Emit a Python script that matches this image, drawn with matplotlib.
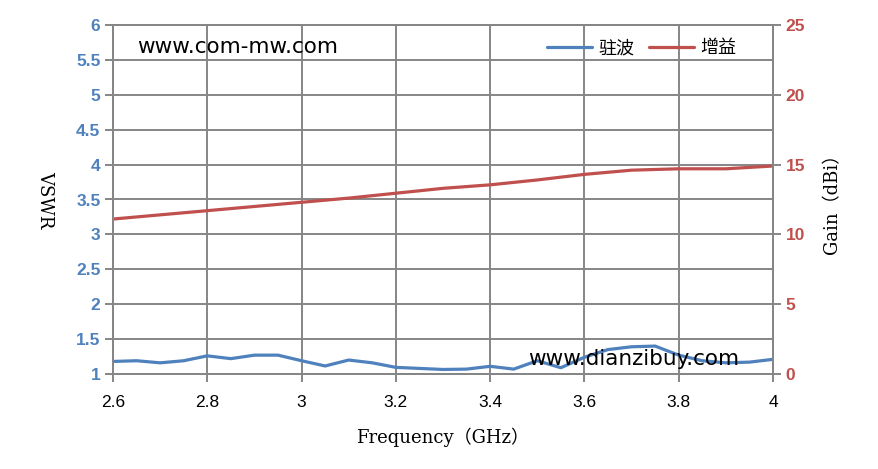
import matplotlib
matplotlib.use("Agg")
import matplotlib.pyplot as plt

# frequency points (GHz)
freq = [2.60, 2.65, 2.70, 2.75, 2.80, 2.85, 2.90, 2.95, 3.00, 3.05,
        3.10, 3.15, 3.20, 3.25, 3.30, 3.35, 3.40, 3.45, 3.50, 3.55,
        3.60, 3.65, 3.70, 3.75, 3.80, 3.85, 3.90, 3.95, 4.00]

# 驻波 (VSWR)
vswr = [1.18, 1.19, 1.16, 1.19, 1.26, 1.22, 1.27, 1.27, 1.19, 1.115,
        1.20, 1.16, 1.095, 1.08, 1.065, 1.07, 1.11, 1.07, 1.19, 1.09,
        1.24, 1.35, 1.39, 1.40, 1.27, 1.19, 1.16, 1.17, 1.21]

# 增益 (gain, dBi)
gain_freq = [2.6, 2.7, 2.8, 2.9, 3.0, 3.1, 3.2, 3.3, 3.4, 3.5,
             3.6, 3.7, 3.8, 3.9, 4.0]
gain = [11.1, 11.4, 11.7, 12.0, 12.3, 12.6, 12.95, 13.3, 13.55, 13.9,
        14.3, 14.6, 14.7, 14.7, 14.9]

xticks = [2.6, 2.8, 3.0, 3.2, 3.4, 3.6, 3.8, 4.0]
xticklabels = ["2.6", "2.8", "3", "3.2", "3.4", "3.6", "3.8", "4"]
vswr_ticks = [1, 1.5, 2, 2.5, 3, 3.5, 4, 4.5, 5, 5.5, 6]
vswr_labels = ["1", "1.5", "2", "2.5", "3", "3.5", "4", "4.5", "5", "5.5", "6"]
gain_ticks = [0, 5, 10, 15, 20, 25]

blue = "#4F81BD"
red = "#C0504D"
grey = "#868686"

fig = plt.figure(figsize=(8.79, 4.69), dpi=100)
ax = fig.add_axes([113/879, 1-374/469, 660/879, 349/469])
ax2 = ax.twinx()

lb, = ax.plot(freq, vswr, color=blue, lw=2.3, solid_capstyle="round")
lr, = ax2.plot(gain_freq, gain, color=red, lw=2.3, solid_capstyle="round")

ax.set_xlim(2.6, 4.0)
ax.set_ylim(1, 6)
ax2.set_ylim(0, 25)

ax.set_xticks(xticks)
ax.set_xticklabels(xticklabels, family="Liberation Sans", fontsize=12.5)
ax.set_yticks(vswr_ticks)
ax.set_yticklabels(vswr_labels, family="Liberation Sans", fontweight="bold", fontsize=12.5, color=blue)
ax2.set_yticks(gain_ticks)
ax2.set_yticklabels([str(t) for t in gain_ticks], family="Liberation Sans", fontweight="bold",
                    fontsize=12.5, color=red)

ax.grid(True, color=grey, lw=1.4)
ax.set_axisbelow(True)
for a in (ax, ax2):
    for s in a.spines.values():
        s.set_color(grey)
        s.set_linewidth(1.4)
ax.tick_params(axis="y", direction="out", length=6, width=1.4, color=grey, pad=3)
ax.tick_params(axis="x", direction="out", length=6, width=1.4, color=grey, pad=9)
ax2.tick_params(axis="y", direction="out", length=6, width=1.4, color=grey, pad=3)

ax.set_xlabel("Frequency（GHz）", family=["DejaVu Serif", "Noto Sans CJK SC"], fontsize=13, labelpad=13)
ax.set_ylabel("VSWR", family="DejaVu Serif", fontsize=13, rotation=270, labelpad=22, va="center")
ax2.set_ylabel("Gain（dBi）", family=["DejaVu Serif", "Noto Sans CJK SC"], fontsize=13, rotation=90,
               labelpad=13)

leg = ax2.legend([lb, lr], ["驻波", "增益"], loc="upper right", bbox_to_anchor=(0.955, 0.98),
                 ncol=2, frameon=False, handlelength=2.5, handletextpad=0.35, columnspacing=0.8,
                 borderaxespad=0, prop={"family": "Noto Sans CJK SC", "size": 13})

fig.text(137/879, 1-53/469, "www.com-mw.com", fontsize=15.5, va="baseline", ha="left", zorder=10)
fig.text(528/879, 1-365/469, "www.dianzibuy.com", fontsize=15.5, va="baseline", ha="left", zorder=10)

fig.savefig("out.png", dpi=100)
